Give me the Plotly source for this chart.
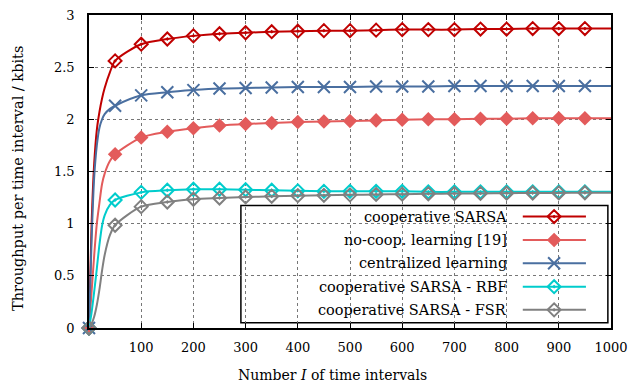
import plotly.graph_objects as go

# ---------------- data ----------------
intervals = [0, 5, 10, 15, 20, 25, 30, 40, 50, 100, 150, 200, 250, 300, 350, 400, 450,
             500, 550, 600, 650, 700, 750, 800, 850, 900, 950, 1000]

coop_sarsa = [0.0, 1.00, 1.58, 1.90, 2.07, 2.20, 2.30, 2.45, 2.56, 2.72, 2.77, 2.80, 2.82,
              2.83, 2.84, 2.845, 2.85, 2.85, 2.855, 2.86, 2.86, 2.86, 2.865, 2.865, 2.87,
              2.87, 2.87, 2.87]
no_coop = [0.0, 0.35, 0.70, 1.00, 1.20, 1.38, 1.48, 1.60, 1.665, 1.825, 1.88, 1.915, 1.94,
           1.955, 1.965, 1.975, 1.98, 1.985, 1.99, 1.995, 2.0, 2.0, 2.005, 2.005, 2.01,
           2.01, 2.01, 2.01]
centralized = [0.0, 0.85, 1.45, 1.75, 1.92, 2.00, 2.05, 2.10, 2.13, 2.23, 2.26, 2.28, 2.295,
               2.30, 2.305, 2.31, 2.31, 2.31, 2.315, 2.315, 2.315, 2.32, 2.32, 2.32, 2.32,
               2.32, 2.32, 2.32]
coop_rbf = [0.0, 0.15, 0.35, 0.57, 0.80, 0.98, 1.08, 1.18, 1.227, 1.30, 1.32, 1.33, 1.33,
            1.325, 1.32, 1.315, 1.31, 1.31, 1.31, 1.31, 1.305, 1.305, 1.305, 1.305, 1.305,
            1.305, 1.305, 1.305]
coop_fsr = [0.0, 0.04, 0.11, 0.22, 0.37, 0.55, 0.70, 0.89, 0.985, 1.163, 1.208, 1.234, 1.246,
            1.256, 1.262, 1.268, 1.272, 1.276, 1.28, 1.283, 1.286, 1.288, 1.29, 1.292, 1.294,
            1.295, 1.296, 1.297]

x_ticks = [100, 200, 300, 400, 500, 600, 700, 800, 900, 1000]
y_ticks = [0, 0.5, 1, 1.5, 2, 2.5, 3]
y_ticktext = ["0", "0.5", "1", "1.5", "2", "2.5", "3"]

names = ["cooperative SARSA", "no-coop. learning [19]", "centralized learning",
         "cooperative SARSA - RBF", "cooperative SARSA - FSR"]
series = [coop_sarsa, no_coop, centralized, coop_rbf, coop_fsr]

x_title = "Number <i>I</i> of time intervals"
y_title = "Throughput per time interval / kbits"

# ---------------- styles ----------------
colors = ["#c00000", "#e35b5b", "#4a6fa0", "#00cccc", "#808080"]
symbols = ["diamond-open-dot", "diamond", "x-thin", "diamond-open-dot", "diamond-open-dot"]
sizes = [10, 9, 12, 10, 10]
FONT = "DejaVu Serif"

fig = go.Figure()

mark_x = [x for x in intervals if x % 50 == 0 and x < 1000]
for name, ys, c, sym, sz in zip(names, series, colors, symbols, sizes):
    fig.add_trace(go.Scatter(x=intervals, y=ys, mode="lines", name=name,
                             line=dict(color=c, width=2, shape="spline", smoothing=0.8),
                             showlegend=False, cliponaxis=False, hoverinfo="skip"))
    my = [y for x, y in zip(intervals, ys) if x in mark_x]
    fig.add_trace(go.Scatter(x=mark_x, y=my, mode="markers", name=name, showlegend=False,
                             cliponaxis=False,
                             marker=dict(symbol=sym, size=sz, color=c,
                                         line=dict(color=c, width=2))))

# ---------------- custom legend (text left, key right) ----------------
leg_x0, leg_x1, leg_y0, leg_y1 = 0.291, 0.994, 0.017, 0.391
fig.add_shape(type="rect", xref="paper", yref="paper", x0=leg_x0, x1=leg_x1,
              y0=leg_y0, y1=leg_y1, line=dict(color="black", width=1.5),
              fillcolor="white", layer="between")
row_y = [0.356, 0.281, 0.207, 0.132, 0.058]
for name, c, sym, sz, ry in zip(names, colors, symbols, sizes, row_y):
    fig.add_annotation(x=0.805, y=ry, xref="paper", yref="paper", text=name,
                       showarrow=False, xanchor="right", yanchor="middle",
                       font=dict(family=FONT, size=14.5, color="black"))
    fig.add_trace(go.Scatter(x=[0.831, 0.952], y=[ry, ry], xaxis="x2", yaxis="y2",
                             mode="lines", line=dict(color=c, width=2), showlegend=False,
                             cliponaxis=False, hoverinfo="skip"))
    fig.add_trace(go.Scatter(x=[0.891], y=[ry], xaxis="x2", yaxis="y2", mode="markers",
                             marker=dict(symbol=sym, size=sz, color=c,
                                         line=dict(color=c, width=2)),
                             showlegend=False, cliponaxis=False, hoverinfo="skip"))

# axis titles (placed as annotations to match the reference's offsets)
fig.add_annotation(x=0.466, y=-0.150, xref="paper", yref="paper", text=x_title,
                   showarrow=False, xanchor="center", yanchor="middle",
                   font=dict(family=FONT, size=14, color="black"))
fig.add_annotation(x=-0.136, y=0.476, xref="paper", yref="paper", text=y_title,
                   showarrow=False, xanchor="center", yanchor="middle", textangle=-90,
                   font=dict(family=FONT, size=14.5, color="black"))

axis_common = dict(showline=True, linecolor="black", linewidth=1.5, mirror="ticks",
                   ticks="inside", ticklen=5, tickcolor="black", tickwidth=1,
                   showgrid=True, gridcolor="#777777", griddash="dot", gridwidth=1,
                   zeroline=False, automargin=False, ticklabeloverflow="allow",
                   tickfont=dict(family=FONT, size=13, color="black"))

# the page body has an 8px default margin, so the figure is sized 8px smaller
fig.update_layout(
    width=630, height=377,
    margin=dict(l=81, r=27, t=7, b=57),
    paper_bgcolor="white", plot_bgcolor="white",
    showlegend=False,
    font=dict(family=FONT, size=14, color="black"),
    xaxis=dict(range=[0, 1000], tickvals=x_ticks, ticklabelstandoff=7, **axis_common),
    yaxis=dict(range=[0, 3], tickvals=y_ticks, ticktext=y_ticktext, ticklabelstandoff=10,
               **axis_common),
    xaxis2=dict(overlaying="x", range=[0, 1], visible=False, fixedrange=True),
    yaxis2=dict(overlaying="y", range=[0, 1], visible=False, fixedrange=True),
)

fig.write_html("out.html")
